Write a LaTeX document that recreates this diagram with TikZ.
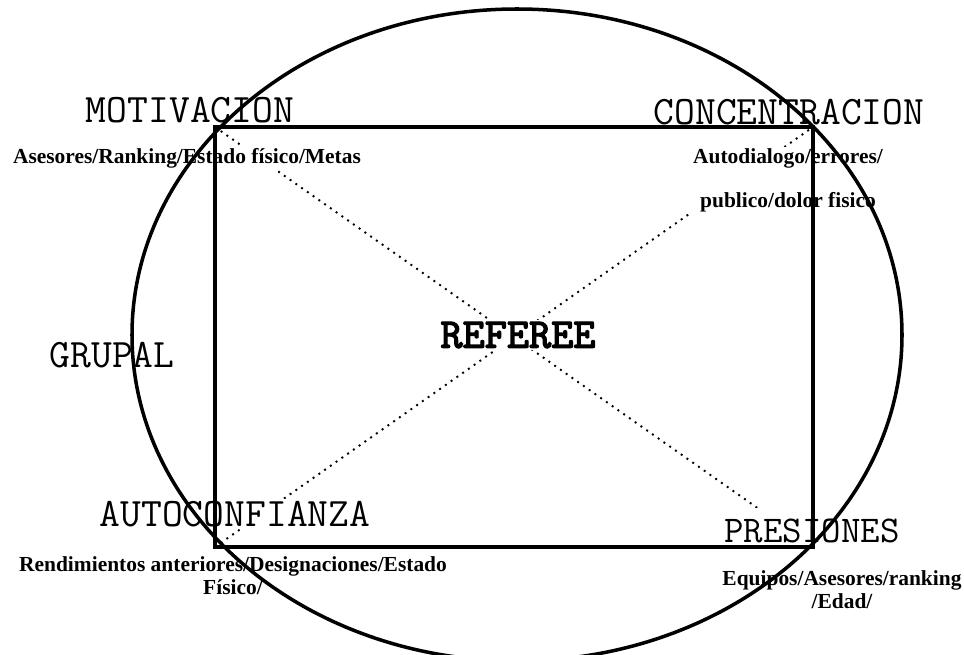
\documentclass[tikz,border=0pt]{standalone}
\usepackage{fontspec}
\setmainfont{Liberation Serif}
\newfontfamily\refereefont[FakeBold=3]{lmmono10-regular.otf}
\usetikzlibrary{positioning}
\tikzset{
  area/.style={font=\ttfamily\fontsize{23}{25}\selectfont, fill=white, inner sep=1pt},
  factor/.style={font=\bfseries\fontsize{12.2}{13.2}\selectfont, align=center, fill=white, inner sep=1pt},
  diag/.style={line width=1.1pt, dash pattern=on 1.1pt off 2.9pt},
  marco/.style={line width=2pt},
}
\begin{document}
\begin{tikzpicture}[x=0.02cm, y=-0.02cm]
  \useasboundingbox (0,0) rectangle (964,655);
  % corners of the square
  \coordinate (mot) at (215,127);
  \coordinate (con) at (813,127);
  \coordinate (aut) at (215,547);
  \coordinate (pre) at (813,547);
  \draw[diag] (mot) -- (pre);
  \draw[diag] (aut) -- (con);
  % areas
  \node[area] (motivacion) at (190,110) {MOTIVACION};
  \node[area] (concentracion) at (789,112) {CONCENTRACION};
  \node[area] (grupal) at (112,355) {GRUPAL};
  \node[area] (autoconfianza) at (235,514) {AUTOCONFIANZA};
  \node[area, font=\ttfamily\fontsize{21.5}{23}\selectfont, inner sep=6pt] (presiones) at (812,531) {PRESIONES};
  \node[area, font=\refereefont\fontsize{24}{26}\selectfont] (referee) at (518,335) {REFEREE};
  % factors
  \node[factor] (motivos) at (187,158) {Asesores/Ranking/Estado físico/Metas};
  \node[factor, font=\bfseries\fontsize{12.2}{25}\selectfont] (foco) at (788,180) {Autodialogo/errores/\\publico/dolor fisico};
  \node[factor] (confianza) at (233,576) {Rendimientos anteriores/Designaciones/Estado\\Físico/};
  \node[factor] (presion) at (842,590) {Equipos/Asesores/ranking\\/Edad/};
  % frame
  \draw[marco] (mot) rectangle (pre);
  \draw[marco] (517,335) ellipse [x radius=385, y radius=326];
\end{tikzpicture}
\end{document}
